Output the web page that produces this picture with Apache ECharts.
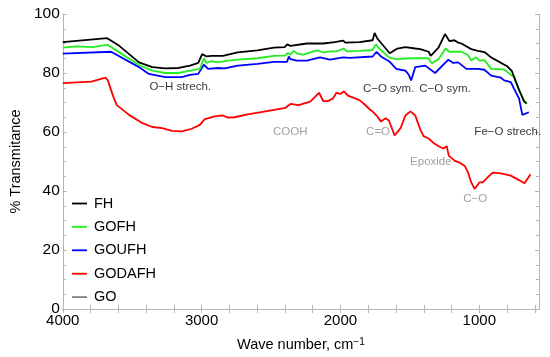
<!DOCTYPE html>
<html><head><meta charset="utf-8">
<script src="https://cdn.jsdelivr.net/npm/echarts@6/dist/echarts.min.js"></script>
<style>html,body{margin:0;padding:0;background:#fff}#c{width:550px;height:357px}</style>
</head><body><div id="c"></div>
<script>
// ---- data ----
const seriesNames = ['FH', 'GOFH', 'GOUFH', 'GODAFH', 'GO'];
const seriesColors = ['#000000', '#22ee22', '#0000ff', '#ff0000', '#808080'];

const FH = [[4000,90.5],[3680,91.8],[3593,89.2],[3451,83.6],[3355,82.0],[3261,81.6],[3166,81.7],[3083,82.5],[3024,83.4],[2996,86.4],[2965,85.6],[2929,85.8],[2847,85.8],[2740,87.0],[2598,87.7],[2479,88.6],[2400,88.8],[2384,89.7],[2360,89.2],[2242,90.0],[2124,90.0],[2041,90.5],[1981,91.0],[1965,90.3],[1863,90.5],[1768,91.1],[1754,93.6],[1733,91.6],[1645,86.7],[1590,88.3],[1532,88.8],[1461,88.3],[1425,88.1],[1365,87.2],[1350,85.8],[1294,88.6],[1247,93.2],[1214,90.8],[1180,91.1],[1152,90.3],[1129,90.0],[1058,88.1],[1010,87.5],[963,87.1],[915,85.3],[800,82.3],[765,80.6],[740,77.5],[715,74.5],[680,70.5],[660,69.7]];

const GOFH = [[4000,88.6],[3900,89.0],[3782,88.8],[3680,89.6],[3645,88.6],[3451,82.7],[3355,80.8],[3261,80.0],[3166,80.0],[3083,80.8],[3012,81.4],[2984,85.0],[2965,83.4],[2929,84.0],[2882,83.6],[2834,84.0],[2740,84.5],[2598,85.0],[2479,85.8],[2400,85.9],[2379,86.8],[2360,86.2],[2337,87.5],[2313,86.6],[2266,86.2],[2171,87.7],[2124,87.0],[2065,87.3],[2029,87.3],[1977,88.3],[1953,87.3],[1863,87.5],[1768,87.8],[1745,89.7],[1721,88.3],[1650,85.3],[1603,84.7],[1484,85.0],[1365,85.0],[1342,83.3],[1294,84.7],[1242,88.3],[1216,87.2],[1129,87.2],[1081,86.1],[1058,84.2],[1022,85.3],[999,84.2],[963,84.4],[915,81.4],[821,81.2],[750,78.6],[714,74.1],[667,69.9],[655,69.5]];

const GOUFH = [[4000,86.6],[3652,87.2],[3451,82.0],[3380,79.7],[3261,78.6],[3142,78.6],[3083,79.4],[3024,79.7],[2984,82.8],[2953,81.4],[2882,81.7],[2834,81.6],[2740,82.5],[2598,83.1],[2479,83.8],[2384,83.8],[2372,85.6],[2360,84.7],[2313,84.2],[2242,84.2],[2147,85.3],[2076,84.5],[1981,85.3],[1934,85.1],[1768,85.6],[1740,87.2],[1709,85.6],[1650,84.0],[1598,81.4],[1567,81.1],[1532,80.8],[1508,79.4],[1491,77.5],[1461,82.0],[1390,82.5],[1318,80.0],[1223,84.5],[1188,83.4],[1152,83.6],[1093,81.4],[1010,81.4],[963,81.1],[915,79.1],[844,78.4],[821,77.5],[773,76.9],[750,74.7],[714,71.4],[690,65.8],[643,66.7]];

const GODAFH = [[4000,76.6],[3794,77.1],[3692,78.4],[3675,77.5],[3640,72.5],[3611,69.1],[3522,65.8],[3426,63.0],[3355,61.7],[3284,61.3],[3213,60.4],[3142,60.2],[3071,61.1],[3012,62.4],[2977,64.4],[2906,65.3],[2847,65.6],[2811,64.9],[2763,65.0],[2669,66.0],[2550,66.9],[2396,68.2],[2360,69.5],[2301,69.1],[2218,70.3],[2154,73.3],[2124,70.5],[2088,70.5],[2053,71.4],[2029,73.3],[2001,72.9],[1974,73.8],[1946,72.3],[1863,70.8],[1827,69.4],[1792,67.8],[1768,66.9],[1733,65.2],[1709,63.6],[1674,64.7],[1650,63.8],[1610,58.8],[1567,61.3],[1532,65.6],[1496,67.0],[1461,65.6],[1425,60.8],[1401,58.6],[1365,57.8],[1330,56.3],[1283,54.9],[1259,54.4],[1235,55.2],[1219,51.9],[1176,50.2],[1141,49.6],[1105,48.5],[1081,46.3],[1058,42.9],[1034,40.7],[999,42.9],[975,42.9],[940,44.6],[904,46.2],[844,46.0],[773,45.2],[714,43.7],[674,42.6],[631,45.7]];

const GO = [];

const xLabelValues = [1000, 2000, 3000, 4000];
const xTickValues = [600,800,1000,1200,1400,1600,1800,2000,2200,2400,2600,2800,3000,3200,3400,3600,3800,4000];

// annotations: [wave number, transmittance, text, colour]
const annotations = [
  [3154, 75.2, 'O\u2212H strech.', '#000000'],
  [2362, 60.0, 'COOH', '#888888'],
  [1729, 60.1, 'C=O', '#888888'],
  [1653, 74.7, 'C\u2212O sym.', '#000000'],
  [1247, 74.7, 'C\u2212O sym.', '#000000'],
  [1349, 50.0, 'Epoxide', '#888888'],
  [1029, 37.2, 'C\u2212O', '#888888'],
  [795, 60.0, 'Fe\u2212O strech.', '#000000']
];

// ---- chart ----
const font = "'Liberation Sans', Arial, Helvetica, sans-serif";
const axisGray = '#b4b4b4';
const chart = echarts.init(document.getElementById('c'), null, {renderer: 'canvas'});
const allData = [FH, GOFH, GOUFH, GODAFH, GO];

const xBase = {
  type: 'value', min: 570, max: 4000, inverse: true,
  axisLine: {lineStyle: {color: axisGray, width: 1}},
  splitLine: {show: false},
  axisTick: {inside: true, length: 4, lineStyle: {color: axisGray}, customValues: xTickValues}
};
const yBase = {
  type: 'value', min: 0, max: 100, interval: 20,
  axisLine: {show: true, lineStyle: {color: axisGray, width: 1}},
  splitLine: {show: false},
  axisTick: {inside: true, length: 4, lineStyle: {color: axisGray}},
  minorTick: {show: true, splitNumber: 4, length: 3, lineStyle: {color: axisGray}}
};

const series = seriesNames.map((n, i) => ({
  name: n, type: 'line', data: allData[i], symbol: 'none',
  lineStyle: {color: seriesColors[i], width: 1.8}, itemStyle: {color: seriesColors[i]},
  silent: true, animation: false, z: 5 - i
}));
series.push({
  name: 'annotations', type: 'scatter', symbolSize: 1, silent: true, animation: false,
  itemStyle: {color: 'rgba(0,0,0,0)'},
  data: annotations.map(a => ({
    value: [a[0], a[1]],
    label: {show: true, position: 'inside', formatter: a[2], color: a[3], fontSize: 11.5, fontFamily: font}
  }))
});

chart.setOption({
  animation: false,
  backgroundColor: '#ffffff',
  grid: {left: 56, top: 14, right: 11, bottom: 43.5, containLabel: false},
  legend: {
    data: seriesNames.map(n => ({name: n, icon: 'rect'})), orient: 'vertical', left: 72, top: 196,
    padding: 0,
    itemWidth: 15, itemHeight: 1.8, itemGap: 8.4,
    textStyle: {fontSize: 14.5, fontFamily: font, color: '#000', lineHeight: 14, padding: [0, 0, 0, 2]},
    selectedMode: false
  },
  xAxis: [
    Object.assign({}, xBase, {
      position: 'bottom',
      axisLabel: {customValues: xLabelValues, formatter: v => String(v), fontSize: 15, color: '#000', fontFamily: font, margin: 4},
      name: 'Wave number, cm{sup|\u22121}', nameLocation: 'middle', nameGap: 28,
      nameTextStyle: {fontSize: 14.5, color: '#000', fontFamily: font,
        rich: {sup: {fontSize: 10, color: '#000', fontFamily: font, verticalAlign: 'top', lineHeight: 10}}}
    }),
    Object.assign({}, xBase, {position: 'top', axisLabel: {show: false}})
  ],
  yAxis: [
    Object.assign({}, yBase, {
      position: 'left',
      axisLabel: {fontSize: 15.5, color: '#000', fontFamily: font, margin: 3},
      name: '% Transmitance', nameLocation: 'middle', nameGap: 39,
      nameTextStyle: {fontSize: 14.5, color: '#000', fontFamily: font}
    }),
    Object.assign({}, yBase, {position: 'right', axisLabel: {show: false}})
  ],
  series: series
});
</script></body></html>
